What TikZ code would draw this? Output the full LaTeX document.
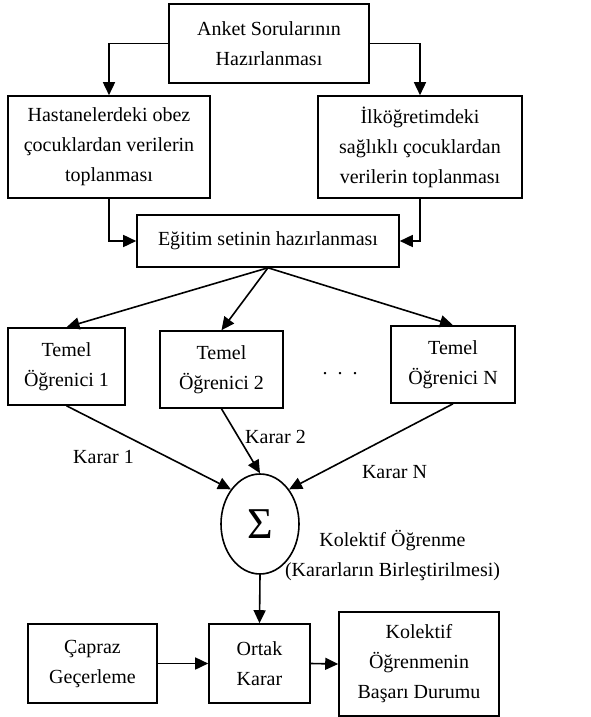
\documentclass[tikz,border=0pt]{standalone}
\usepackage{fontspec}
\setmainfont{Liberation Serif}
\usepackage{tikz}
\usetikzlibrary{positioning, arrows.meta, calc, shapes.geometric}
\tikzset{
  block/.style={
    draw, line width=0.8pt, align=center, inner sep=2pt,
    font=\fontsize{10}{15}\selectfont
  },
  sumnode/.style={
    ellipse, draw, line width=0.8pt, minimum width=39pt,
    minimum height=50pt, inner sep=0pt, font=\fontsize{22}{24}\selectfont
  },
  link/.style={->, line width=0.8pt},
  lbl/.style={inner sep=0pt, align=center, font=\fontsize{10}{15}\selectfont},
}

\begin{document}
\begin{tikzpicture}[
  x=5pt, y=-5pt,
  >={Triangle[length=6.5pt,width=6pt]}
]
  \useasboundingbox (0,0) rectangle (59,71.7);
  \node[block, minimum width=100pt, minimum height=39.5pt] (AS) at (26.9,4.35) {Anket Sorularının\\Hazırlanması};
  \node[block, minimum width=101pt, minimum height=51pt] (HV) at (10.9,14.7) {Hastanelerdeki obez\\çocuklardan verilerin\\toplanması};
  \node[block, minimum width=102pt, minimum height=51pt] (IV) at (42.0,14.7) {İlköğretimdeki\\sağlıklı çocuklardan\\verilerin toplanması};
  \node[block, minimum width=131pt, minimum height=26pt] (ES) at (26.8,24.1) {Eğitim setinin hazırlanması};
  \node[block, minimum width=58.5pt, minimum height=38.5pt] (T1) at (6.65,36.65) {Temel\\Öğrenici 1};
  \node[block, minimum width=61.5pt, minimum height=38.5pt] (T2) at (22.15,36.95) {Temel\\Öğrenici 2};
  \node[block, minimum width=62pt, minimum height=38.5pt] (TN) at (45.3,36.45) {Temel\\Öğrenici N};
  \node[lbl] (DT) at (34.0,37.4) {.\hspace{5pt}.\hspace{5pt}.};
  \node[sumnode] (SUM) at (26.0,52.4) {Σ};
  \node[lbl] (K1) at (10.35,45.7) {Karar 1};
  \node[lbl] (K2) at (27.55,43.7) {Karar 2};
  \node[lbl] (KN) at (39.45,47.2) {Karar N};
  \node[lbl] (KO) at (39.25,55.55) {Kolektif Öğrenme\\(Kararların Birleştirilmesi)};
  \node[block, minimum width=64.5pt, minimum height=39.5pt] (CV) at (9.25,66.35) {Çapraz\\Geçerleme};
  \node[block, minimum width=50.5pt, minimum height=39.5pt] (OK) at (25.95,66.35) {Ortak\\Karar};
  \node[block, minimum width=80pt, minimum height=52pt] (KB) at (41.9,66.4) {Kolektif\\Öğrenmenin\\Başarı Durumu};
  \draw[link] (AS.west) -| (HV.north);
  \draw[link] (AS.east) -| (IV.north);
  \draw[link] (HV.south) |- (ES.west);
  \draw[link] (IV.south) |- (ES.east);
  \draw[link] (ES.south) -- (T1.north);
  \draw[link] (ES.south) -- (T2.north);
  \draw[link] (ES.south) -- (TN.north);
  \draw[link] (T1.south) -- (SUM.130);
  \draw[link] (T2.south) -- (SUM.north);
  \draw[link] (TN.south) -- (SUM.50);
  \draw[link] (SUM.south) -- (OK.north);
  \draw[link] (CV.east) -- (OK.west);
  \draw[link] (OK.east) -- (KB.west);
\end{tikzpicture}
\end{document}
